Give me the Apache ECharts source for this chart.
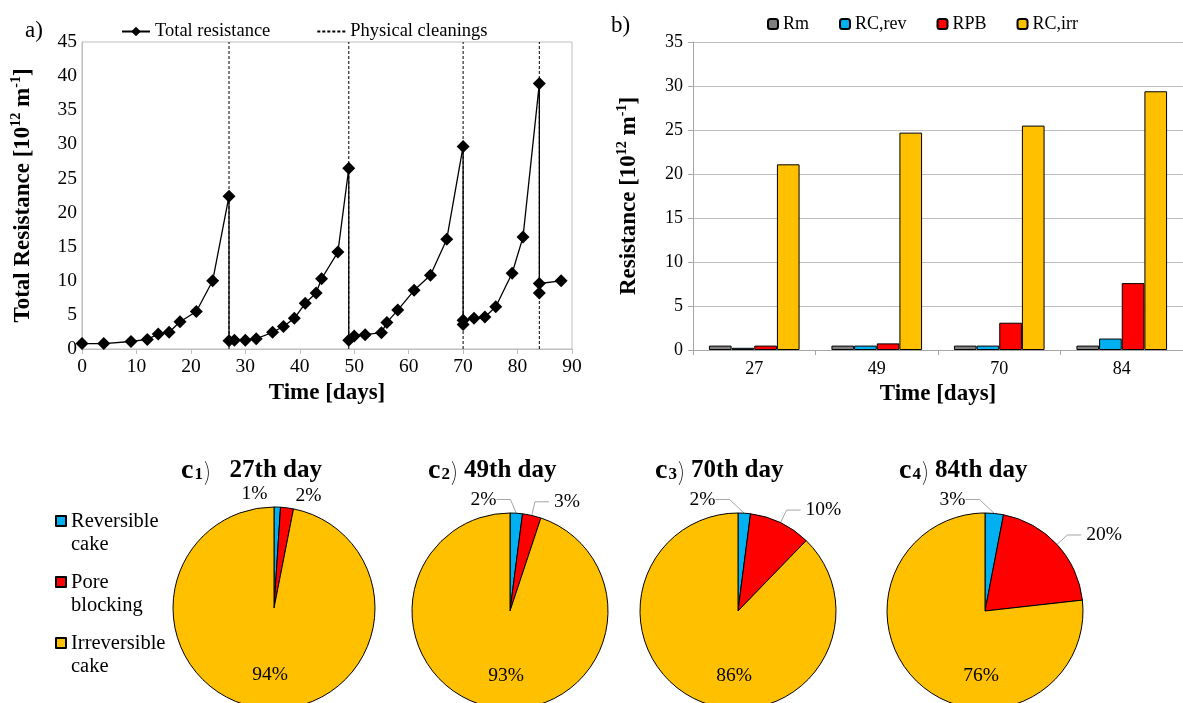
<!DOCTYPE html>
<html>
<head>
<meta charset="utf-8">
<script src="https://cdn.jsdelivr.net/npm/echarts@6/dist/echarts.min.js"></script>
<style>
  html, body { margin: 0; padding: 0; background: #fff; }
  #chart { width: 1183px; height: 703px; }
</style>
</head>
<body>
<div id="chart"></div>
<script>
// a) total resistance over time
var totalDays = [0, 4, 9, 12, 14, 16, 18, 21, 24, 27, 27, 28, 30, 32, 35, 37, 39, 41, 43, 44, 47, 49,
  49, 50, 52, 55, 56, 58, 61, 64, 67, 70, 70, 70, 72, 74, 76, 79, 81, 84, 84, 84, 88];
var totalRes = [0.8, 0.8, 1.1, 1.4, 2.2, 2.45, 4.0, 5.5, 10.0, 22.4, 1.2, 1.3, 1.3, 1.5, 2.45, 3.3, 4.5, 6.7, 8.2, 10.3, 14.2, 26.5,
  1.3, 1.9, 2.1, 2.4, 3.9, 5.7, 8.6, 10.8, 16.1, 29.7, 3.6, 4.2, 4.5, 4.7, 6.2, 11.1, 16.4, 38.9, 8.2, 9.6, 10.0];
var cleaningDays = [27, 49, 70, 84];

// b) resistance breakdown
var barDays = ['27', '49', '70', '84'];
var rm = [0.5, 0.5, 0.5, 0.5];
var rcRev = [0.25, 0.5, 0.5, 1.3];
var rpb = [0.5, 0.75, 3.1, 7.6];
var rcIrr = [21.1, 24.7, 25.5, 29.4];

// c) fouling shares (%)
var pieDays = [27, 49, 70, 84];
var pieNames = ['Reversible cake', 'Pore blocking', 'Irreversible cake'];
var pieRev = [1, 2, 2, 3];
var piePB = [2, 3, 10, 20];
var pieIrr = [94, 93, 86, 76];

var serif = 'Liberation Serif';
var colors = ['#7f7f7f', '#00b0f0', '#ff0000', '#ffc000'];
var axisGray = '#a6a6a6';

var chart = echarts.init(document.getElementById('chart'));

var unitRich = {
  t: { fontFamily: serif, fontSize: 23, fontWeight: 'bold', color: '#000', lineHeight: 28 },
  s: { fontFamily: serif, fontSize: 14, fontWeight: 'bold', color: '#000', lineHeight: 28, verticalAlign: 'top', padding: [0, 0, 9, 0] }
};
var nameStyle = { fontFamily: serif, fontSize: 23, fontWeight: 'bold', color: '#000' };

var cleaningData = [];
cleaningDays.forEach(function (d) {
  cleaningData.push([d, 0], [d, 45], [d, '-']);
});

// pie placement: [cx, cy, r] and how far the blue label sits left of its slice
var piePos = [[274, 608, 101], [510, 611, 98], [738, 611, 98], [985, 611, 98]];
var blueShift = [-6, -13, -22, -19];

function makePieLayout(i) {
  return function (p) {
    if (p.dataIndex === 0) {
      return { x: p.rect.x + blueShift[i], y: p.rect.y - 13, align: 'right', verticalAlign: 'middle' };
    }
    if (p.dataIndex === 2) {
      return { x: p.rect.x + p.rect.width / 2 - 4, y: p.rect.y + p.rect.height * 0.83, align: 'center', verticalAlign: 'middle' };
    }
  };
}

var pieSeries = pieDays.map(function (d, i) {
  return {
    type: 'pie',
    name: d + 'th day',
    center: [piePos[i][0], piePos[i][1]],
    radius: piePos[i][2],
    startAngle: 90,
    clockwise: true,
    avoidLabelOverlap: false,
    minShowLabelAngle: 0,
    itemStyle: { borderColor: '#000', borderWidth: 1 },
    label: { formatter: '{c}%', fontFamily: serif, fontSize: 19.5, color: '#000' },
    labelLine: {
      show: i > 0, length: i > 0 ? 14 : 12, length2: i > 0 ? 14 : 2, smooth: false,
      lineStyle: { color: '#a6a6a6', width: 1 }
    },
    labelLayout: makePieLayout(i),
    emphasis: { disabled: true },
    data: [
      { name: pieNames[0], value: pieRev[i], itemStyle: { color: colors[1] } },
      { name: pieNames[1], value: piePB[i], itemStyle: { color: colors[2] } },
      { name: pieNames[2], value: pieIrr[i], itemStyle: { color: colors[3] }, labelLine: { show: false } }
    ]
  };
});

var pieTitles = pieDays.map(function (d, i) {
  var lefts = [176, 423, 650, 894];
  return {
    text: '{c|c}{n|' + (i + 1) + '}{p|)}{b|' + (i === 0 ? '  ' : '') + d + 'th day}',
    left: lefts[i],
    top: 452,
    textStyle: {
      rich: {
        c: { fontFamily: serif, fontSize: 28, color: '#000' },
        n: { fontFamily: serif, fontSize: 17, color: '#000', padding: [7, 1, 0, 1] },
        p: { fontFamily: 'Noto Sans CJK SC', fontSize: 24, fontWeight: 'lighter', color: '#000', padding: [0, 6, 0, 0] },
        b: { fontFamily: serif, fontSize: 25, fontWeight: 'bold', color: '#000' }
      }
    }
  };
});

var option = {
  backgroundColor: '#fff',
  animation: false,
  title: [
    { text: 'a)', left: 20, top: 14, textStyle: { fontFamily: serif, fontSize: 23, fontWeight: 'normal', color: '#000' } },
    { text: 'b)', left: 606, top: 9, textStyle: { fontFamily: serif, fontSize: 23, fontWeight: 'normal', color: '#000' } }
  ].concat(pieTitles),
  legend: [
    {
      data: ['Total resistance', { name: 'Physical cleanings', itemStyle: { opacity: 0 } }],
      left: 116, top: 17,
      itemWidth: 28, itemHeight: 12, itemGap: 46,
      textStyle: { fontFamily: serif, fontSize: 18.5, color: '#000' }
    },
    {
      data: ['Rm', 'RC,rev', 'RPB', 'RC,irr'],
      left: 762, top: 10,
      itemWidth: 10, itemHeight: 10, itemGap: 30,
      textStyle: { fontFamily: serif, fontSize: 18, color: '#000' }
    },
    {
      data: pieNames,
      orient: 'vertical',
      left: 50, top: 504,
      itemWidth: 10, itemHeight: 46, itemGap: 13,
      icon: 'path://M0,0h0M0,6h10v10h-10zM0,46h0',
      formatter: function (n) { return n.replace(' ', '\n'); },
      textStyle: { fontFamily: serif, fontSize: 20.5, lineHeight: 23, color: '#000' }
    }
  ],
  grid: [
    { left: 82, top: 42, width: 490, height: 307, show: true, borderColor: '#bfbfbf', borderWidth: 1, backgroundColor: 'transparent' },
    { left: 693, top: 42, right: -5, height: 308 }
  ],
  xAxis: [
    {
      gridIndex: 0, type: 'value', min: 0, max: 90, interval: 10,
      name: 'Time [days]', nameLocation: 'middle', nameGap: 33, nameTextStyle: nameStyle,
      axisLine: { lineStyle: { color: '#bfbfbf' } },
      axisTick: { show: true, length: 5, lineStyle: { color: '#bfbfbf' } },
      axisLabel: { fontFamily: serif, fontSize: 19.5, color: '#000', margin: 8 },
      splitLine: { show: false }
    },
    {
      gridIndex: 1, type: 'category', data: barDays,
      name: 'Time [days]', nameLocation: 'middle', nameGap: 33, nameTextStyle: nameStyle,
      axisLine: { lineStyle: { color: axisGray } },
      axisTick: { show: true, length: 5, alignWithLabel: false, lineStyle: { color: axisGray } },
      axisLabel: { fontFamily: serif, fontSize: 18, color: '#000', margin: 10 }
    }
  ],
  yAxis: [
    {
      gridIndex: 0, type: 'value', min: 0, max: 45, interval: 5,
      name: '{t|Total Resistance [10}{s|12}{t| m}{s|-1}{t|]}', nameLocation: 'middle', nameGap: 45,
      nameTextStyle: { rich: unitRich },
      axisLine: { show: true, lineStyle: { color: '#bfbfbf' } },
      axisTick: { show: false },
      axisLabel: { fontFamily: serif, fontSize: 19.5, color: '#000', margin: 5 },
      splitLine: { show: false }
    },
    {
      gridIndex: 1, type: 'value', min: 0, max: 35, interval: 5,
      name: '{t|Resistance [10}{s|12}{t| m}{s|-1}{t|]}', nameLocation: 'middle', nameGap: 50,
      nameTextStyle: { rich: unitRich },
      axisLine: { show: true, lineStyle: { color: axisGray } },
      axisTick: { show: true, length: 5, lineStyle: { color: axisGray } },
      axisLabel: { fontFamily: serif, fontSize: 18, color: '#000', margin: 10 },
      splitLine: { show: true, lineStyle: { color: '#bfbfbf' } }
    }
  ],
  series: [
    {
      name: 'Physical cleanings', type: 'line', xAxisIndex: 0, yAxisIndex: 0,
      data: cleaningData, symbol: 'none', connectNulls: false, z: 1,
      lineStyle: { color: '#000', width: 1, type: [3, 2] },
      itemStyle: { color: '#000' }
    },
    {
      name: 'Total resistance', type: 'line', xAxisIndex: 0, yAxisIndex: 0,
      data: totalDays.map(function (d, i) { return [d, totalRes[i]]; }),
      symbol: 'diamond', symbolSize: 13, z: 3,
      lineStyle: { color: '#000', width: 1.3 },
      itemStyle: { color: '#000' }
    },
    { name: 'Rm', type: 'bar', xAxisIndex: 1, yAxisIndex: 1, data: rm, barGap: 0, barCategoryGap: '26%',
      itemStyle: { color: colors[0], borderColor: '#000', borderWidth: 1 } },
    { name: 'RC,rev', type: 'bar', xAxisIndex: 1, yAxisIndex: 1, data: rcRev, barGap: 0, barCategoryGap: '26%',
      itemStyle: { color: colors[1], borderColor: '#000', borderWidth: 1 } },
    { name: 'RPB', type: 'bar', xAxisIndex: 1, yAxisIndex: 1, data: rpb, barGap: 0, barCategoryGap: '26%',
      itemStyle: { color: colors[2], borderColor: '#000', borderWidth: 1 } },
    { name: 'RC,irr', type: 'bar', xAxisIndex: 1, yAxisIndex: 1, data: rcIrr, barGap: 0, barCategoryGap: '26%',
      itemStyle: { color: colors[3], borderColor: '#000', borderWidth: 1 } }
  ].concat(pieSeries)
};

chart.setOption(option);
</script>
</body>
</html>
